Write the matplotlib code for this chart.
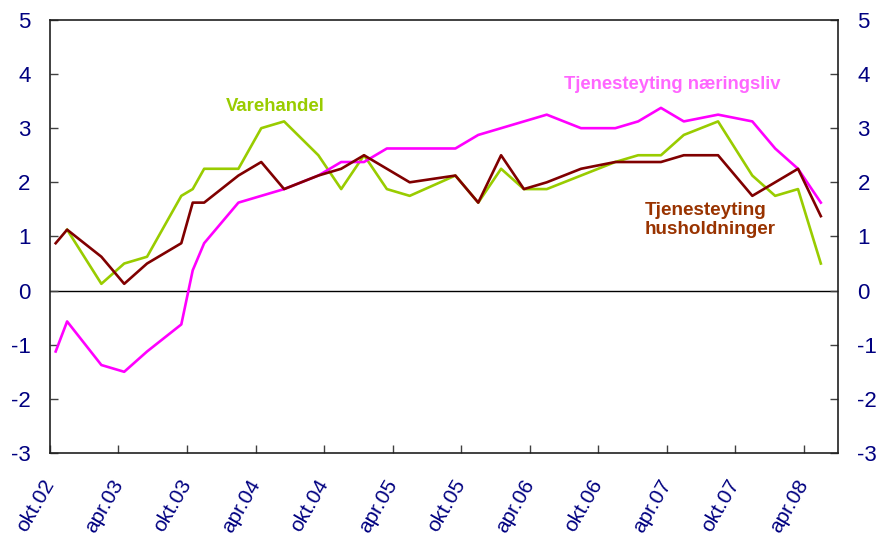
import matplotlib.pyplot as plt
import numpy as np

plt.rcParams['font.family'] = ['Liberation Sans', 'DejaVu Sans']
plt.rcParams['axes.unicode_minus'] = False

# months after okt.02 (survey rounds)
months = [0, 1, 4, 6, 8, 11, 12, 13, 16, 18, 20, 23, 25, 27, 29, 31, 35, 37,
          39, 41, 43, 46, 49, 51, 53, 55, 58, 61, 63, 65, 67]

naeringsliv = [-1.125, -0.57, -1.375, -1.5, -1.125, -0.625, 0.375, 0.875,
               1.625, 1.75, 1.875, 2.125, 2.375, 2.375, 2.625, 2.625, 2.625,
               2.875, 3.0, 3.125, 3.25, 3.0, 3.0, 3.125, 3.375, 3.125, 3.25,
               3.125, 2.625, 2.25, 1.625]

varehandel = [np.nan, 1.125, 0.125, 0.5, 0.625, 1.75, 1.875, 2.25, 2.25,
              3.0, 3.125, 2.5, 1.875, 2.5, 1.875, 1.75, 2.125, 1.625, 2.25,
              1.875, 1.875, 2.125, 2.375, 2.5, 2.5, 2.875, 3.125, 2.125, 1.75,
              1.875, 0.5]

husholdninger = [0.875, 1.125, 0.625, 0.125, 0.5, 0.875, 1.625, 1.625,
                 2.125, 2.375, 1.875, 2.125, 2.25, 2.5, 2.25, 2.0, 2.125,
                 1.625, 2.5, 1.875, 2.0, 2.25, 2.375, 2.375, 2.375, 2.5, 2.5,
                 1.75, 2.0, 2.25, 1.375]

tick_months = [0, 6, 12, 18, 24, 30, 36, 42, 48, 54, 60, 66]
tick_labels = ['okt.02', 'apr.03', 'okt.03', 'apr.04', 'okt.04', 'apr.05',
               'okt.05', 'apr.06', 'okt.06', 'apr.07', 'okt.07', 'apr.08']

navy = '#000080'
x = np.array(months) + 0.5

fig = plt.figure(figsize=(8.83, 5.38), dpi=100)
ax = fig.add_axes([0.0566, 0.158, 0.8924, 0.805])

ax.axhline(0, color='black', lw=1.0, zorder=1)
ax.plot(x, varehandel, color='#99CC00', lw=1.9, zorder=2)
ax.plot(x, naeringsliv, color='#FF00FF', lw=1.9, zorder=3)
ax.plot(x, husholdninger, color='#800000', lw=1.9, zorder=4)

ax.set_xlim(0, 69)
ax.set_ylim(-3, 5)
ax.set_yticks(range(-3, 6))
ax.set_xticks(tick_months)
ax.set_xticklabels(tick_labels, rotation=60, ha='right', va='center',
                   rotation_mode='anchor')

ax.tick_params(axis='y', direction='in', length=6, width=1, color='#404040',
               labelsize=16, labelcolor=navy, pad=14,
               left=True, right=True, labelleft=True, labelright=True)
ax.tick_params(axis='x', direction='in', length=6, width=1, color='#404040',
               labelsize=15, labelcolor=navy, pad=20)

for s in ax.spines.values():
    s.set_color('#202020')
    s.set_linewidth(1.2)

ax.text(19.7, 3.40, 'Varehandel', color='#99CC00', fontsize=13.4,
        fontweight='bold', ha='center', va='center')
ax.text(54.5, 3.81, 'Tjenesteyting næringsliv', color='#FF66FF',
        fontsize=13.2, fontweight='bold', ha='center', va='center')
ax.text(52.1, 1.31, 'Tjenesteyting\nhusholdninger', color='#993300',
        fontsize=13.6, fontweight='bold', ha='left', va='center',
        linespacing=1.15)

fig.savefig('out.png', dpi=100)
